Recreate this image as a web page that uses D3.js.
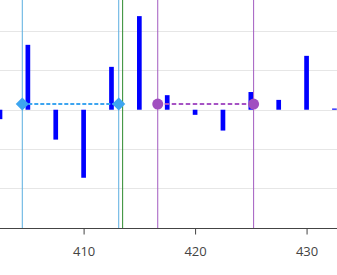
<!DOCTYPE html>
<html><head><meta charset="utf-8">
<script src="https://cdn.jsdelivr.net/npm/d3@7"></script>
<style>html,body{margin:0;padding:0;background:#fff;overflow:hidden}</style>
</head><body>
<svg id="c" width="337" height="275"></svg>
<script>
// Data
const barX = [402.5, 405, 407.5, 410, 412.5, 415, 417.5, 420, 422.5, 425, 427.5, 430, 432.5];
const barY = [-0.24, 1.65, -0.76, -1.73, 1.09, 2.38, 0.37, -0.13, -0.53, 0.45, 0.25, 1.37, 0.03];
const xTicks = [410, 420, 430];
const yGrid = [-2, -1, 0, 1, 2];
const blueLines = [404.5, 413.15];
const greenLines = [413.5];
const purpleLines = [416.65, 425.25];
const blueSpan = [[404.5, 0.145], [413.15, 0.145]];
const purpleSpan = [[416.65, 0.145], [425.25, 0.145]];

const svg = d3.select("#c");
const x = d3.scaleLinear().domain([402.5, 432.73]).range([0, 337]);
const y = d3.scaleLinear().domain([-3, 2.79]).range([227.7, 0]);

// grid
svg.append("g").selectAll("line").data(yGrid).join("line")
  .attr("x1", 0).attr("x2", 337)
  .attr("y1", d => Math.round(y(d)) + 0.5).attr("y2", d => Math.round(y(d)) + 0.5)
  .attr("stroke", "#e6e6e6").attr("stroke-width", 1);

// bars
const bw = 0.42;
svg.append("g").selectAll("rect").data(barX).join("rect")
  .attr("x", (d) => x(d - bw / 2))
  .attr("width", (d) => x(d + bw / 2) - x(d - bw / 2))
  .attr("y", (d, i) => Math.min(y(barY[i]), y(0)))
  .attr("height", (d, i) => Math.abs(y(barY[i]) - y(0)))
  .attr("fill", "#0000ff");

// vertical lines
function vlines(arr, color) {
  svg.append("g").selectAll("line").data(arr).join("line")
    .attr("x1", d => x(d)).attr("x2", d => x(d))
    .attr("y1", 0).attr("y2", 228)
    .attr("stroke", color).attr("stroke-width", 1);
}
vlines(blueLines, "#5aaee0");
vlines(greenLines, "#2e8b2e");
vlines(purpleLines, "#a25bc0");

// dashed spans
const line = d3.line().x(d => x(d[0])).y(d => y(d[1]));
svg.append("path").datum(blueSpan).attr("d", line)
  .attr("fill", "none").attr("stroke", "#3da5f0").attr("stroke-width", 2)
  .attr("stroke-dasharray", "4,2");
svg.append("path").datum(purpleSpan).attr("d", line)
  .attr("fill", "none").attr("stroke", "#a653c4").attr("stroke-width", 2)
  .attr("stroke-dasharray", "4.5,2.5");

svg.append("g").selectAll("path").data(blueSpan).join("path")
  .attr("d", d3.symbol(d3.symbolDiamond2, 110))
  .attr("transform", d => `translate(${x(d[0])},${y(d[1])})`)
  .attr("fill", "#3da5f0");
svg.append("g").selectAll("circle").data(purpleSpan).join("circle")
  .attr("cx", d => x(d[0])).attr("cy", d => y(d[1])).attr("r", 5.5)
  .attr("fill", "#a14fc0");

// x axis
const ax = svg.append("g").attr("transform", "translate(0,228.5)")
  .call(d3.axisBottom(x).tickValues(xTicks).tickSize(6).tickPadding(12).tickFormat(d3.format("d")));
ax.select(".domain").attr("stroke", "#444").attr("d", "M0,0H337");
ax.selectAll(".tick line").attr("stroke", "#444");
ax.selectAll("text").attr("fill", "#444").attr("font-size", 13)
  .attr("font-family", "'Open Sans', sans-serif");
</script>
</body></html>
